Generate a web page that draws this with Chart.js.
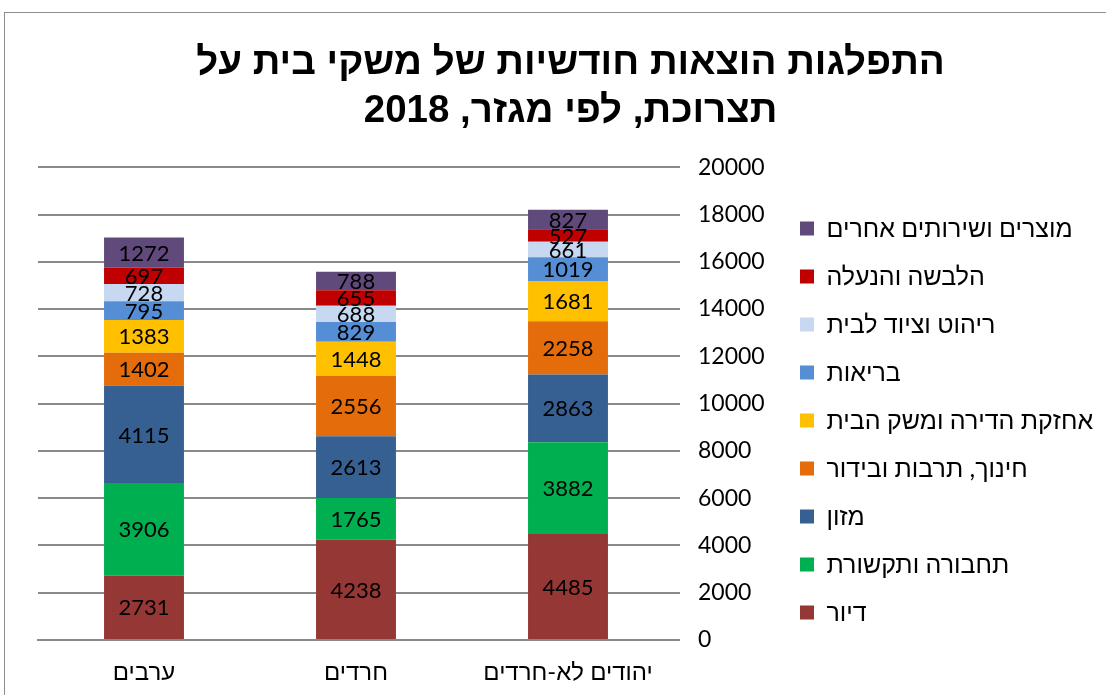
<!DOCTYPE html>
<html>
<head>
<meta charset="utf-8">
<script src="https://cdn.jsdelivr.net/npm/chart.js@4"></script>
<style>
  body { margin: 0; background: #fff; }
  #wrap { position: relative; width: 1106px; height: 695px; }
  #frame { position: absolute; left: 4px; top: 12px; width: 1110px; height: 700px; border: 1px solid #8c8c8c; box-sizing: border-box; }
  canvas { position: absolute; left: 0; top: 0; }
</style>
</head>
<body>
<div id="wrap">
  <div id="frame"></div>
  <canvas id="chart" width="1106" height="695"></canvas>
</div>
<script>
'use strict';

// categories shown left to right (Excel RTL order)
var categories = ['ערבים', 'חרדים', 'יהודים לא-חרדים'];

var diur = [2731, 4238, 4485];
var tahbura = [3906, 1765, 3882];
var mazon = [4115, 2613, 2863];
var hinuch = [1402, 2556, 2258];
var ahzaka = [1383, 1448, 1681];
var briut = [795, 829, 1019];
var rihut = [728, 688, 661];
var halbasha = [697, 655, 527];
var mutzarim = [1272, 788, 827];

var yTicks = [0, 2000, 4000, 6000, 8000, 10000, 12000, 14000, 16000, 18000, 20000];

var seriesNames = ['דיור', 'תחבורה ותקשורת', 'מזון', 'חינוך, תרבות ובידור', 'אחזקת הדירה ומשק הבית', 'בריאות', 'ריהוט וציוד לבית', 'הלבשה והנעלה', 'מוצרים ושירותים אחרים'];
var seriesValues = [diur, tahbura, mazon, hinuch, ahzaka, briut, rihut, halbasha, mutzarim];
var seriesColors = ['#953735', '#00b050', '#376092', '#e46c0a', '#ffc000', '#558ed5', '#c6d9f1', '#c00000', '#604a7b'];

var baseFont = "Lato, 'Liberation Sans', sans-serif";
var legendSize = 25;
var legendPad = 23;
var plotRight = 674;
var axisWidth = 800 - legendPad - plotRight;

// measure legend text so the plot area keeps its place
var mctx = document.getElementById('chart').getContext('2d');
mctx.font = legendSize + 'px ' + baseFont;
var maxText = 0;
seriesNames.forEach(function (n) { maxText = Math.max(maxText, mctx.measureText(n).width); });
var legendWidth = legendPad + 14 + legendSize / 2 + maxText + 10;
var padRight = Math.max(0, 1106 - plotRight - axisWidth - legendWidth);

var datasets = [];
for (let i = 0; i < seriesNames.length; i++) {
    datasets.push({
        label: seriesNames[i],
        data: seriesValues[i],
        backgroundColor: seriesColors[i],
        borderWidth: 0,
        barPercentage: 0.377,
        categoryPercentage: 1
    });
}

// value labels in the middle of each segment
var valueLabels = {
    id: 'valueLabels',
    afterDatasetsDraw: function (chart) {
        var ctx = chart.ctx;
        ctx.save();
        ctx.font = '22px ' + baseFont;
        ctx.fillStyle = '#000';
        ctx.textAlign = 'center';
        ctx.textBaseline = 'middle';
        chart.data.datasets.forEach(function (ds, i) {
            chart.getDatasetMeta(i).data.forEach(function (bar, j) {
                ctx.fillText(String(ds.data[j]), bar.x, (bar.y + bar.base) / 2 + 1);
            });
        });
        ctx.restore();
    }
};

// nudge the legend column down a little, like the original
var legendNudge = {
    id: 'legendNudge',
    afterLayout: function (chart) {
        chart.legend.top += 8;
        chart.legend.bottom += 8;
    }
};

var chart = new Chart(mctx, {
    type: 'bar',
    data: { labels: categories, datasets: datasets },
    plugins: [valueLabels, legendNudge],
    options: {
        responsive: false,
        animation: false,
        layout: { padding: { left: 38, top: 14, right: padRight, bottom: 0 } },
        plugins: {
            title: {
                display: true,
                text: ['התפלגות הוצאות חודשיות של משקי בית על', 'תצרוכת, לפי מגזר, 2018'],
                color: '#000',
                font: { family: "'Liberation Sans', Arial, sans-serif", size: 38.5, weight: 'bold', lineHeight: 1.25 },
                padding: { top: 25, bottom: 32 }
            },
            legend: {
                position: 'right',
                align: 'end',
                fullSize: false,
                maxWidth: 500,
                reverse: true,
                labels: {
                    color: '#000',
                    font: { family: baseFont, size: legendSize },
                    boxWidth: 14,
                    boxHeight: 14,
                    padding: legendPad
                }
            },
            tooltip: { enabled: false }
        },
        scales: {
            x: {
                stacked: true,
                grid: { display: false },
                border: { color: '#898989', width: 2 },
                afterFit: function (scale) { scale.height = 55; },
                ticks: { color: '#000', font: { family: baseFont, size: 24 }, padding: 10 }
            },
            y: {
                stacked: true,
                position: 'right',
                min: 0,
                max: 20000,
                afterBuildTicks: function (scale) {
                    scale.ticks = yTicks.map(function (v) { return { value: v }; });
                },
                afterFit: function (scale) { scale.width = axisWidth; },
                grid: { color: '#898989', lineWidth: 2, tickLength: 6 },
                border: { display: false },
                ticks: {
                    color: '#000',
                    font: { family: baseFont, size: 23 },
                    padding: 18,
                    callback: function (v) { return String(v); }
                }
            }
        }
    }
});
</script>
</body>
</html>
